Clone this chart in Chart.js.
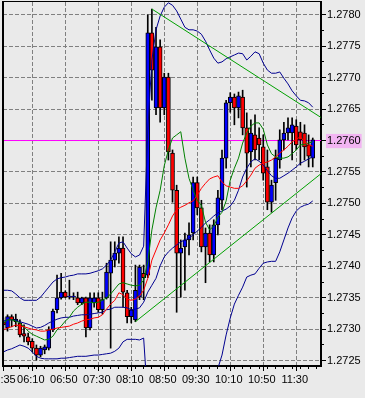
<!DOCTYPE html>
<html>
<head>
<meta charset="utf-8">
<script src="https://cdn.jsdelivr.net/npm/chart.js@4.4.1/dist/chart.umd.min.js"></script>
<style>
  html, body { margin: 0; padding: 0; background: #eaeaea; }
</style>
</head>
<body>
<canvas id="chart" width="365" height="398"></canvas>
<script>
// 5 minute bars, 05:35 .. 11:50
const TIME_LABELS = ["05:35", "06:10", "06:50", "07:30", "08:10", "08:50", "09:30", "10:10", "10:50", "11:30"];
const LABEL_BARS = [0, 7, 15, 23, 31, 39, 47, 55, 63, 71];

const opens = [1.27312,1.27302,1.27320,1.27312,1.27310,1.27293,1.27288,1.27281,1.27270,1.27259,
  1.27267,1.27270,1.27299,1.27331,1.27350,1.27359,1.27351,1.27351,1.27350,1.27342,
  1.27350,1.27302,1.27342,1.27350,1.27331,1.27350,1.27389,1.27410,1.27421,1.27429,
  1.27358,1.27320,1.27315,1.27351,1.27389,1.27386,1.27771,1.27652,1.27749,1.27652,
  1.27701,1.27580,1.27521,1.27421,1.27431,1.27442,1.27453,1.27533,1.27493,1.27431,
  1.27453,1.27418,1.27466,1.27505,1.27572,1.27660,1.27669,1.27652,1.27669,1.27620,
  1.27582,1.27609,1.27604,1.27590,1.27558,1.27502,1.27533,1.27569,1.27601,1.27612,
  1.27612,1.27623,1.27614,1.27612,1.27593,1.27572];
const highs = [1.27318,1.27323,1.27323,1.27324,1.27315,1.27307,1.27294,1.27285,1.27275,1.27273,
  1.27275,1.27304,1.27332,1.27386,1.27389,1.27361,1.27378,1.27358,1.27359,1.27351,
  1.27351,1.27358,1.27358,1.27358,1.27359,1.27405,1.27439,1.27439,1.27447,1.27447,
  1.27362,1.27335,1.27402,1.27402,1.27402,1.27800,1.27809,1.27780,1.27760,1.27707,
  1.27707,1.27585,1.27529,1.27442,1.27453,1.27469,1.27542,1.27542,1.27505,1.27461,
  1.27466,1.27474,1.27521,1.27585,1.27664,1.27676,1.27674,1.27677,1.27680,1.27644,
  1.27633,1.27641,1.27620,1.27609,1.27585,1.27537,1.27585,1.27617,1.27629,1.27636,
  1.27636,1.27633,1.27629,1.27625,1.27609,1.27604];
const lows = [1.27299,1.27297,1.27304,1.27304,1.27288,1.27280,1.27275,1.27264,1.27251,1.27256,
  1.27261,1.27267,1.27296,1.27326,1.27348,1.27350,1.27348,1.27347,1.27339,1.27339,
  1.27288,1.27299,1.27335,1.27327,1.27324,1.27348,1.27270,1.27399,1.27405,1.27335,
  1.27310,1.27310,1.27312,1.27347,1.27347,1.27382,1.27664,1.27641,1.27629,1.27641,
  1.27569,1.27502,1.27327,1.27351,1.27362,1.27418,1.27442,1.27482,1.27423,1.27374,
  1.27407,1.27407,1.27450,1.27490,1.27556,1.27645,1.27625,1.27636,1.27609,1.27526,
  1.27558,1.27569,1.27569,1.27537,1.27490,1.27486,1.27505,1.27556,1.27585,1.27601,
  1.27569,1.27585,1.27561,1.27569,1.27558,1.27558];
const closes = [1.27307,1.27320,1.27315,1.27316,1.27291,1.27289,1.27280,1.27270,1.27259,1.27270,
  1.27272,1.27299,1.27329,1.27350,1.27359,1.27351,1.27352,1.27351,1.27342,1.27350,
  1.27302,1.27350,1.27350,1.27331,1.27347,1.27391,1.27410,1.27421,1.27429,1.27359,
  1.27320,1.27331,1.27362,1.27399,1.27382,1.27771,1.27712,1.27749,1.27652,1.27701,
  1.27582,1.27521,1.27421,1.27429,1.27442,1.27450,1.27533,1.27493,1.27431,1.27453,
  1.27418,1.27466,1.27509,1.27572,1.27660,1.27669,1.27652,1.27671,1.27620,1.27580,
  1.27612,1.27585,1.27593,1.27548,1.27502,1.27529,1.27572,1.27601,1.27612,1.27620,
  1.27625,1.27593,1.27601,1.27590,1.27575,1.27601];

// indicators
const bandUpper = [1.27362,1.27362,1.27361,1.27356,1.27350,1.27346,1.27346,1.27346,1.27346,1.27351,
  1.27359,1.27367,1.27375,1.27380,1.27382,1.27383,1.27385,1.27386,1.27388,1.27388,
  1.27388,1.27389,1.27391,1.27393,1.27396,1.27402,1.27410,1.27423,1.27437,1.27439,
  1.27429,1.27420,1.27415,1.27418,1.27432,1.27617,1.27728,1.27776,1.27798,1.27812,
  1.27819,1.27815,1.27806,1.27793,1.27780,1.27776,1.27776,1.27774,1.27769,1.27758,
  1.27744,1.27731,1.27723,1.27725,1.27730,1.27733,1.27736,1.27739,1.27738,1.27728,
  1.27734,1.27741,1.27738,1.27723,1.27712,1.27707,1.27707,1.27709,1.27699,1.27690,
  1.27679,1.27671,1.27664,1.27663,1.27660,1.27653];
const bandMiddle = [1.27313,1.27315,1.27315,1.27314,1.27312,1.27310,1.27308,1.27305,1.27302,1.27303,
  1.27306,1.27310,1.27313,1.27316,1.27318,1.27319,1.27319,1.27321,1.27322,1.27323,
  1.27323,1.27324,1.27325,1.27326,1.27327,1.27331,1.27332,1.27335,1.27335,1.27335,
  1.27334,1.27331,1.27332,1.27334,1.27343,1.27359,1.27370,1.27381,1.27401,1.27415,
  1.27423,1.27429,1.27434,1.27439,1.27442,1.27445,1.27450,1.27456,1.27462,1.27469,
  1.27474,1.27480,1.27485,1.27488,1.27491,1.27496,1.27505,1.27521,1.27542,1.27556,
  1.27566,1.27571,1.27567,1.27561,1.27552,1.27544,1.27540,1.27540,1.27544,1.27548,
  1.27553,1.27558,1.27564,1.27567,1.27571,1.27574];
const bandLower = [1.27264,1.27267,1.27269,1.27272,1.27275,1.27273,1.27270,1.27264,1.27257,1.27254,
  1.27253,1.27253,1.27253,1.27253,1.27254,1.27254,1.27255,1.27256,1.27257,1.27257,
  1.27257,1.27258,1.27259,1.27259,1.27260,1.27261,1.27262,1.27265,1.27270,1.27280,
  1.27284,1.27284,1.27284,1.27283,1.27286,1.27187,null,null,null,null,
  null,null,null,null,null,null,null,null,null,null,
  null,1.27187,1.27238,1.27259,1.27291,1.27318,1.27340,1.27354,1.27367,1.27383,
  1.27386,1.27388,1.27397,1.27405,1.27407,1.27408,1.27408,1.27423,1.27442,1.27461,
  1.27477,1.27488,1.27494,1.27497,1.27499,1.27504];
const maRed = [1.27299,1.27302,1.27304,1.27307,1.27305,1.27304,1.27302,1.27300,1.27299,1.27297,
  1.27297,1.27299,1.27300,1.27302,1.27303,1.27304,1.27305,1.27308,1.27310,1.27313,
  1.27315,1.27316,1.27318,1.27319,1.27323,1.27332,1.27340,1.27346,1.27358,1.27355,
  1.27348,1.27346,1.27348,1.27353,1.27362,1.27381,1.27410,1.27426,1.27442,1.27453,
  1.27466,1.27480,1.27490,1.27494,1.27497,1.27501,1.27504,1.27513,1.27524,1.27532,
  1.27539,1.27542,1.27544,1.27534,1.27528,1.27526,1.27524,1.27524,1.27528,1.27536,
  1.27545,1.27556,1.27561,1.27564,1.27566,1.27569,1.27574,1.27580,1.27585,1.27591,
  1.27598,1.27602,1.27606,1.27598,1.27593,1.27591];
const maGreen = [1.27310,1.27315,1.27315,1.27313,1.27310,1.27304,1.27297,1.27292,1.27289,1.27286,
  1.27283,1.27284,1.27289,1.27299,1.27305,1.27313,1.27319,1.27329,1.27335,1.27340,
  1.27343,1.27343,1.27342,1.27343,1.27346,1.27350,1.27356,1.27364,1.27372,1.27374,
  1.27372,1.27370,1.27369,1.27370,1.27378,1.27407,1.27458,1.27493,1.27521,1.27560,
  1.27585,1.27604,1.27609,1.27614,1.27572,1.27540,1.27521,1.27505,1.27497,1.27470,
  1.27458,1.27464,1.27478,1.27486,1.27504,1.27537,1.27556,1.27572,1.27596,1.27612,
  1.27623,1.27628,1.27628,1.27618,1.27593,1.27579,1.27574,1.27572,1.27572,1.27574,
  1.27579,1.27585,1.27593,1.27594,1.27596,1.27598];

// drawn objects
const TREND_HIGH_BARS = [36, 80];
const TREND_HIGH_PRICES = [1.27809, 1.27624];
const TREND_LOW_BARS = [32, 80];
const TREND_LOW_PRICES = [1.27312, 1.27563];
const BID_PRICE = 1.2760;

const Y_MIN = 1.272416, Y_MAX = 1.278202;
const X_MIN = -0.1, X_MAX = 77.0;

const xy = (arr) => arr.map((v, i) => ({ x: i, y: v }));
const pairs = (xs, ys) => xs.map((x, i) => ({ x: x, y: ys[i] }));

const yMajors = [];
const yMinors = [];
for (let k = 0; k <= 22; k++) {
  const v = (12725 + k * 2.5) / 10000;
  yMinors.push(v);
  if (k % 2 === 0) yMajors.push(v);
}
const xMinors = [];
for (let i = 1; i <= 75; i += 2) xMinors.push(i);

Chart.defaults.font.family = "'Liberation Sans', Arial, sans-serif";
Chart.defaults.font.size = 11;
Chart.defaults.color = "#000";

const line = (label, data, color) => ({
  type: "line",
  label: label,
  data: data,
  borderColor: color,
  borderWidth: 1,
  pointRadius: 0,
  tension: 0,
  spanGaps: false,
});

const frame = {
  id: "frame",
  afterDatasetsDraw(chart) {
    const { ctx, chartArea: a } = chart;
    ctx.save();
    ctx.fillStyle = "#000";
    ctx.fillRect(a.left - 1, a.top - 1, 2, a.bottom - a.top + 1);
    ctx.fillRect(a.left - 1, a.top - 1, a.right - a.left + 1, 1);
    ctx.restore();
  },
};

new Chart(document.getElementById("chart"), {
  type: "bar",
  data: {
    datasets: [
      line("Trend high", pairs(TREND_HIGH_BARS, TREND_HIGH_PRICES), "#00a000"),
      line("Trend low", pairs(TREND_LOW_BARS, TREND_LOW_PRICES), "#00a000"),
      line("MA red", xy(maRed), "#ff0000"),
      line("MA green", xy(maGreen), "#008000"),
      line("Band middle", xy(bandMiddle), "#000090"),
      line("Band upper", xy(bandUpper), "#000090"),
      line("Band lower", xy(bandLower), "#000090"),
      {
        label: "Body",
        data: opens.map((o, i) => ({ x: i, y: [o, closes[i]] })),
        backgroundColor: opens.map((o, i) => (closes[i] >= o ? "#0000ff" : "#ff0000")),
        borderColor: "#000",
        borderWidth: 1,
        borderSkipped: false,
        barThickness: 4,
        minBarLength: 1,
        grouped: false,
      },
      {
        label: "Wick",
        data: highs.map((h, i) => ({ x: i, y: [lows[i], h] })),
        backgroundColor: "#000",
        borderWidth: 0,
        barThickness: 1,
        grouped: false,
      },
      line("Bid", [{ x: -2, y: BID_PRICE }, { x: 80, y: BID_PRICE }], "#ff00ff"),
    ],
  },
  options: {
    responsive: false,
    animation: false,
    devicePixelRatio: 1,
    layout: { padding: { left: 3, top: 2, right: 0, bottom: 0 } },
    plugins: { legend: { display: false }, tooltip: { enabled: false } },
    scales: {
      x: {
        type: "linear",
        position: "bottom",
        min: X_MIN,
        max: X_MAX,
        offset: false,
        weight: 1,
        afterBuildTicks: (s) => { s.ticks = LABEL_BARS.map((v) => ({ value: v })); },
        afterFit: (s) => { s.height = 32; s.paddingLeft = 0; s.paddingRight = 0; },
        grid: {
          offset: false,
          color: (c) => (c.tick && c.tick.value === 0 ? "rgba(0,0,0,0)" : "#808080"),
          tickColor: "#000",
          tickLength: 5,
        },
        border: { display: true, color: "#000", width: 2, dash: [4, 2] },
        ticks: {
          autoSkip: false,
          maxRotation: 0,
          padding: 2,
          labelOffset: -1.5,
          callback: (v) => TIME_LABELS[LABEL_BARS.indexOf(v)],
        },
      },
      xMinor: {
        type: "linear",
        position: "bottom",
        min: X_MIN,
        max: X_MAX,
        offset: false,
        weight: 0,
        afterBuildTicks: (s) => { s.ticks = xMinors.map((v) => ({ value: v })); },
        afterFit: (s) => { s.height = 0; s.paddingLeft = 0; s.paddingRight = 0; },
        grid: { drawOnChartArea: false, tickColor: "#000", tickLength: 3 },
        border: { display: false },
        ticks: { display: false },
      },
      y: {
        type: "linear",
        position: "right",
        min: Y_MIN,
        max: Y_MAX,
        weight: 1,
        afterBuildTicks: (s) => { s.ticks = yMajors.map((v) => ({ value: v })); },
        afterFit: (s) => { s.width = 44; s.paddingTop = 0; s.paddingBottom = 0; },
        grid: { color: "#808080", tickColor: "#000", tickLength: 5 },
        border: { display: true, color: "#000", width: 2, dash: [4, 2] },
        ticks: {
          padding: 1,
          callback: (v) => v.toFixed(4),
          showLabelBackdrop: (c) => Math.abs(c.tick.value - BID_PRICE) < 1e-7,
          backdropColor: "#f2b4f2",
          backdropPadding: { top: 0, bottom: 1, left: 1, right: 1 },
        },
      },
      yMinor: {
        type: "linear",
        position: "right",
        min: Y_MIN,
        max: Y_MAX,
        weight: 0,
        afterBuildTicks: (s) => { s.ticks = yMinors.map((v) => ({ value: v })); },
        afterFit: (s) => { s.width = 0; s.paddingTop = 0; s.paddingBottom = 0; },
        grid: { drawOnChartArea: false, tickColor: "#000", tickLength: 3 },
        border: { display: false },
        ticks: { display: false },
      },
    },
  },
  plugins: [frame],
});
</script>
</body>
</html>
